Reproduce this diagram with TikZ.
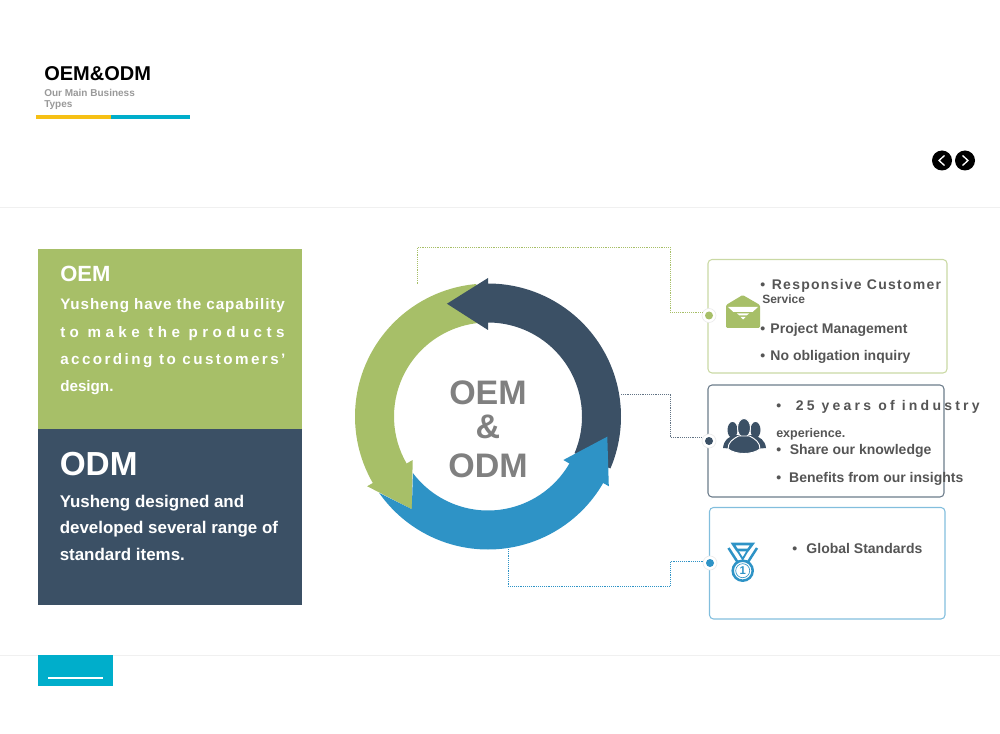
\documentclass[tikz,border=0pt]{standalone}
\usepackage{fontspec}
\setmainfont{Liberation Sans}
\definecolor{leaf}{HTML}{A7BF68}
\definecolor{slate}{HTML}{3B5065}
\definecolor{ocean}{HTML}{2E93C6}
\definecolor{teal}{HTML}{00AECB}
\definecolor{amber}{HTML}{F6C015}
\definecolor{inktext}{HTML}{555555}
\newcommand{\spaced}[2]{{\addfontfeatures{LetterSpace=#1}#2}}
\newcommand{\fsize}[1]{\fontsize{#1}{#1}\selectfont}
\tikzset{
    txt/.style={inner sep=0pt,anchor=base west,font=\bfseries\fsize{10.5},text=inktext},
    paneltxt/.style={txt,text=white,font=\bfseries\fsize{11.4}},
    middletxt/.style={inner sep=0pt,anchor=base,font=\bfseries\fsize{25.5},text=black!50},
    card/.style={rounded corners=3pt,line width=0.8pt},
    link/.style={densely dotted,line width=0.4pt},
    halo/.style={circle,draw=black!8,fill=white,line width=0.5pt,minimum size=10.5pt,inner sep=0pt},
    pip/.style={circle,minimum size=6pt,inner sep=0pt},
    navdot/.style={circle,fill=black,minimum size=15pt,inner sep=0pt}
}
\begin{document}
\begin{tikzpicture}[x=0.75pt,y=-0.75pt]
    \useasboundingbox (0,0) rectangle (1000,734);
    % rules and header
    \draw[black!6,line width=0.5pt] (0,207.5) -- (1000,207.5);
    \draw[black!6,line width=0.5pt] (0,655.5) -- (1000,655.5);
    \node[txt,text=black,font=\bfseries\fsize{15}] (title) at (44,81) {OEM\&ODM};
    \node[txt,text=black!40,font=\bfseries\fsize{7.5}] (subone) at (44,96.5) {Our Main Business};
    \node[txt,text=black!40,font=\bfseries\fsize{7.5}] (subtwo) at (44,107.5) {Types};
    \fill[amber] (36,115) rectangle (110.5,119.5);
    \fill[teal] (110.5,115) rectangle (189.5,119.5);
    \node[navdot] (prev) at (942,160.5) {};
    \node[navdot] (next) at (965,160.5) {};
    \draw[white,line width=1pt] (944.5,155.5) -- (939,160.5) -- (944.5,165.5);
    \draw[white,line width=1pt] (962.5,155.5) -- (968,160.5) -- (962.5,165.5);
    \fill[teal] (38,655) rectangle (113,686);
    \draw[white,line width=0.8pt] (48,678) -- (103,678);
    % left panels
    \fill[leaf] (38,249) rectangle (302,429);
    \fill[slate] (38,429) rectangle (302,605);
    \node[paneltxt,font=\bfseries\fsize{16.5}] (oem) at (60,282) {OEM};
    \node[paneltxt] (oemone) at (60,310) {\spaced{6}{Yusheng have the capability}};
    \node[paneltxt] (oemtwo) at (60,337.5) {\spaced{29}{to make the products}};
    \node[paneltxt] (oemthree) at (60,365) {\spaced{16}{according to customers’}};
    \node[paneltxt] (oemfour) at (60,392) {design.};
    \node[paneltxt,font=\bfseries\fsize{25}] (odm) at (59.5,475) {ODM};
    \node[paneltxt,font=\bfseries\fsize{12.7}] (odmone) at (59.5,507) {Yusheng designed and};
    \node[paneltxt,font=\bfseries\fsize{12.7}] (odmtwo) at (59.5,533.5) {developed several range of};
    \node[paneltxt,font=\bfseries\fsize{12.7}] (odmthree) at (59.5,560) {standard items.};
    % ring
    \begin{scope}[shift={(488,416.5)},yscale=-1]
        \fill[leaf] (95:94) arc (95:210:94) -- (210:87) -- (230.6:120) -- (210:139.5) -- (210:133) arc (210:95:133) -- cycle;
        \fill[slate] (-23:94) arc (-23:90:94) -- (90:86.5) -- (110:120) -- (90:138.5) -- (90:133) arc (90:-23:133) -- cycle;
        \fill[ocean] (217:94) arc (217:330:94) -- (330:87) -- (350.4:121) -- (330:139.5) -- (330:133) arc (330:215:133) -- (230.6:120) -- cycle;
    \end{scope}
    \node[middletxt] (mida) at (488,404) {OEM};
    \node[middletxt] (midb) at (488,438) {\&};
    \node[middletxt] (midc) at (488,477) {ODM};
    % cards
    \draw[card,draw=leaf!60] (708,259.5) rectangle (947,373);
    \draw[card,draw=slate!75] (708,385) rectangle (944,497);
    \draw[card,draw=ocean!60] (709.5,507.5) rectangle (945,619);
    \node[halo] (leafhalo) at (709,315.5) {};
    \node[pip,fill=leaf] (leafpip) at (709,315.5) {};
    \node[halo] (slatehalo) at (709,441) {};
    \node[pip,fill=slate] (slatepip) at (709,441) {};
    \node[halo] (oceanhalo) at (710,563) {};
    \node[pip,fill=ocean] (oceanpip) at (710,563) {};
    % connectors
    \coordinate (leafstart) at (417.5,284);
    \coordinate (leafbend) at (670,247);
    \coordinate (slatestart) at (621,394);
    \coordinate (slatebend) at (670,394);
    \coordinate (oceanstart) at (508,549);
    \coordinate (oceanbend) at (670,586);
    \draw[link,draw=leaf] (leafstart) |- (leafbend) |- (leafhalo.150);
    \draw[link,draw=slate!80] (slatestart) -- (slatebend) |- (slatehalo.150);
    \draw[link,draw=ocean] (oceanstart) |- (oceanbend) |- (oceanhalo.170);
    % icons
    \fill[leaf,rounded corners=1pt] (726,305) -- (742.7,295) -- (760,305) -- (760,328) -- (726,328) -- cycle;
    \fill[white] (728,307) -- (758,307) -- (752.5,312) -- (733.5,312) -- cycle;
    \fill[white] (737,313.5) -- (749,313.5) -- (746.5,315.5) -- (739.5,315.5) -- cycle;
    \fill[white] (740.5,317) -- (745.5,317) -- (743,319.5) -- cycle;
    \begin{scope}[slate]
        \fill (732.5,430) ellipse (5 and 8);
        \fill (755.5,430) ellipse (5 and 8);
        \fill (723,448) .. controls (724,440) and (728,437) .. (735,435) -- (753,435) .. controls (760,437) and (765,440) .. (766,448) -- (745,450) -- cycle;
        \fill[draw=white,line width=0.7pt] (744,428) ellipse (6.5 and 9.5);
        \fill[draw=white,line width=0.7pt] (728,449) .. controls (728,442) and (733,439) .. (738.5,436) -- (749.5,436) .. controls (755,439) and (760,442) .. (760,449) .. controls (752,455) and (736,455) .. (728,449) -- cycle;
    \end{scope}
    \begin{scope}[ocean,line width=1.9pt]
        \draw (733,544) -- (752.5,544) -- (748,550) -- (737,550) -- cycle;
        \draw (728.5,548) -- (737.5,562);
        \draw (757,548) -- (748,562);
        \draw[line width=1.4pt] (737,550) -- (742.7,559) -- (748,550);
        \draw (742.7,570.7) circle (10);
        \draw[line width=0.5pt] (742.7,570.7) circle (7);
    \end{scope}
    \node[inner sep=0pt,text=ocean,font=\bfseries\fsize{8.5}] (medalnum) at (742.7,570.7) {1};
    % card texts
    \node[txt] (rowa) at (760,290) {\spaced{9}{•\hspace{5pt}Responsive Customer}};
    \node[txt,font=\bfseries\fsize{9}] (rowb) at (762,304) {Service};
    \node[txt] (rowc) at (760,333.5) {•\hspace{4pt}Project Management};
    \node[txt] (rowd) at (760,361) {•\hspace{4pt}No obligation inquiry};
    \node[txt] (rowe) at (776,410.5) {\spaced{23}{•\hspace{11pt}25 years of industry}};
    \node[txt,font=\bfseries\fsize{9.4}] (rowf) at (776,437) {experience.};
    \node[txt] (rowg) at (776,455) {•\hspace{6.5pt}Share our knowledge};
    \node[txt] (rowh) at (776,482) {•\hspace{6pt}Benefits from our insights};
    \node[txt] (rowi) at (792,553) {•\hspace{7pt}Global Standards};
\end{tikzpicture}
\end{document}
